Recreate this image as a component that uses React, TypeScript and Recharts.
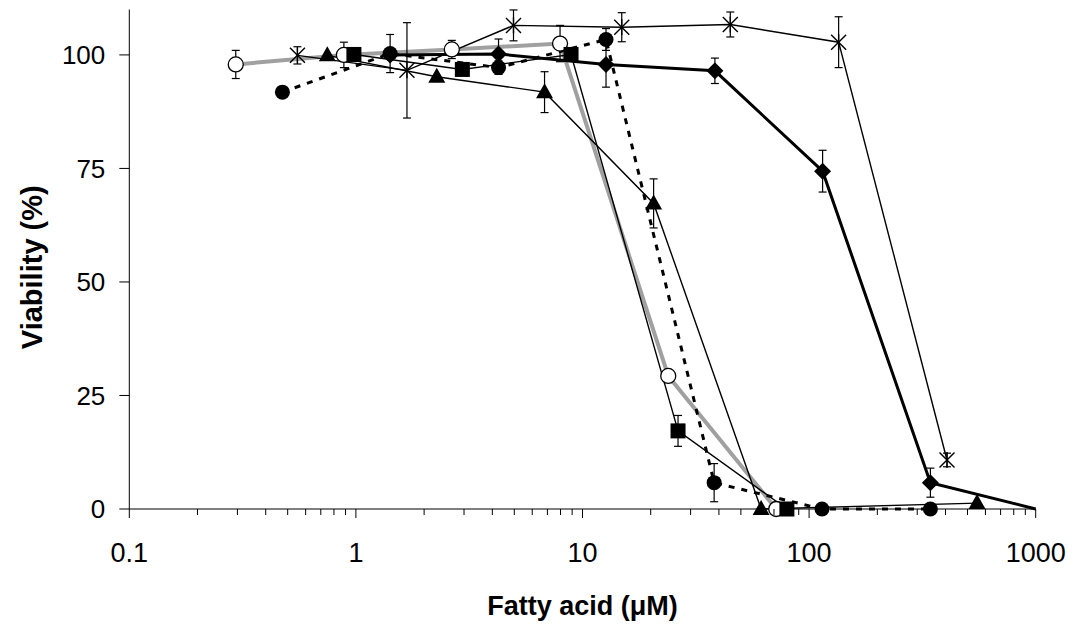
import { LineChart, Line, XAxis, YAxis, ErrorBar } from 'recharts';

// concentrations (µM), viability (%) and error (±) for each fatty acid
const openCircleX = [0.295, 0.885, 2.65, 7.96, 23.9, 71.6];
const openCircleY = [97.9, 100, 101.2, 102.5, 29.3, 0];
const openCircleErr = [3.1, 2.8, 2, 4, 1, 0];

const starX = [0.552, 1.68, 4.96, 14.9, 44.9, 135, 406];
const starY = [99.9, 96.6, 106.5, 106.1, 106.7, 102.8, 10.8];
const starErr = [1.9, 10.5, 3.4, 3.2, 2.75, 5.6, 1.5];

const triangleX = [0.748, 2.275, 6.8, 20.6, 61.4, 551];
const triangleY = [99.9, 95.2, 91.8, 67.3, 0, 1.3];
const triangleErr = [0, 0, 4.5, 5.4, 0, 0];

const squareX = [0.98, 2.95, 8.9, 26.4, 79.8];
const squareY = [100.1, 96.8, 100.1, 17.2, 0];
const squareErr = [0, 0, 0, 3.4, 0];

const circleX = [0.474, 1.416, 4.26, 12.7, 38.1, 114, 343];
const circleY = [91.8, 100.3, 97.2, 103.4, 5.8, 0, 0];
const circleErr = [0, 4.2, 1.5, 2.4, 4.2, 0, 0];

const diamondX = [1.416, 4.26, 12.7, 38.4, 114.7, 343, 1000];
const diamondY = [100, 100.2, 97.9, 96.5, 74.4, 5.8, 0];
const diamondErr = [0, 3.3, 5, 2.8, 4.6, 3.2, 0];

const majorTicks = [0.1, 1, 10, 100, 1000];
const yTicks = [0, 25, 50, 75, 100];

const allTicks: number[] = [];
majorTicks.forEach((t, i) => {
  allTicks.push(t);
  if (i < majorTicks.length - 1) {
    for (let m = 2; m <= 9; m++) allTicks.push(+(t * m).toPrecision(3));
  }
});

const rows = (xs: number[], ys: number[], es: number[]) =>
  xs.map((x, i) => ({ x, y: ys[i], err: es[i] }));

const FONT = '"Liberation Sans", Arial, sans-serif';

const isMajor = (v: number) => majorTicks.some((t) => Math.abs(t - v) < 1e-9);

const XTick = (props: any) => {
  const { x, y, payload } = props;
  const major = isMajor(payload.value);
  return (
    <g>
      <line x1={x} y1={y} x2={x} y2={y + (major ? 9 : 6)} stroke="#000" strokeWidth={1} />
      {major && (
        <text x={x} y={y + 53} textAnchor="middle" fontSize={27} fontFamily={FONT} fill="#000">
          {String(payload.value)}
        </text>
      )}
    </g>
  );
};

const makeDot = (kind: string) => (props: any) => {
  const { cx, cy, payload, index } = props;
  const key = `${kind}-${index}`;
  if (cx == null || cy == null || payload.x >= 1000) return <g key={key} />;
  switch (kind) {
    case 'openCircle':
      return <circle key={key} cx={cx} cy={cy} r={7.5} fill="#fff" stroke="#000" strokeWidth={1.3} />;
    case 'circle':
      return <circle key={key} cx={cx} cy={cy} r={7.5} fill="#000" />;
    case 'square':
      return <rect key={key} x={cx - 7.5} y={cy - 7.5} width={15} height={15} fill="#000" />;
    case 'triangle':
      return (
        <polygon key={key} points={`${cx},${cy - 9} ${cx + 8.5},${cy + 6} ${cx - 8.5},${cy + 6}`} fill="#000" />
      );
    case 'diamond':
      return (
        <polygon
          key={key}
          points={`${cx},${cy - 8.5} ${cx + 8.5},${cy} ${cx},${cy + 8.5} ${cx - 8.5},${cy}`}
          fill="#000"
        />
      );
    default:
      return (
        <g key={key} stroke="#000" strokeWidth={1.4}>
          <line x1={cx} y1={cy - 8} x2={cx} y2={cy + 8} />
          <line x1={cx - 7.5} y1={cy - 7.5} x2={cx + 7.5} y2={cy + 7.5} />
          <line x1={cx - 7.5} y1={cy + 7.5} x2={cx + 7.5} y2={cy - 7.5} />
        </g>
      );
  }
};

const yTitle = (props: any) => {
  const vb = props.viewBox;
  const cx = vb.x + 24;
  const cy = vb.y + vb.height / 2 + 8;
  return (
    <text
      x={cx}
      y={cy}
      transform={`rotate(-90 ${cx} ${cy})`}
      textAnchor="middle"
      dominantBaseline="central"
      fontSize={29}
      fontWeight="bold"
      fontFamily={FONT}
      fill="#000"
    >
      Viability (%)
    </text>
  );
};

const xTitle = (props: any) => {
  const vb = props.viewBox;
  return (
    <text
      x={vb.x + vb.width / 2}
      y={vb.y + 106}
      textAnchor="middle"
      fontSize={27}
      fontWeight="bold"
      fontFamily={FONT}
      fill="#000"
    >
      Fatty acid (μM)
    </text>
  );
};

const series = [
  { name: 'open', data: rows(openCircleX, openCircleY, openCircleErr), dot: 'openCircle', stroke: '#a0a0a0', width: 4, dash: undefined },
  { name: 'star', data: rows(starX, starY, starErr), dot: 'star', stroke: '#000', width: 1.4, dash: undefined },
  { name: 'tri', data: rows(triangleX, triangleY, triangleErr), dot: 'triangle', stroke: '#000', width: 1.4, dash: undefined },
  { name: 'sq', data: rows(squareX, squareY, squareErr), dot: 'square', stroke: '#000', width: 1.4, dash: undefined },
  { name: 'dia', data: rows(diamondX, diamondY, diamondErr), dot: 'diamond', stroke: '#000', width: 3, dash: undefined },
  { name: 'circ', data: rows(circleX, circleY, circleErr), dot: 'circle', stroke: '#000', width: 3, dash: '6 7' },
];

export default function App() {
  return (
    <LineChart width={1062} height={613} margin={{ top: 1.5, right: 34.3, bottom: 0, left: 0 }}>
      <XAxis
        type="number"
        dataKey="x"
        scale="log"
        domain={[0.1, 1000]}
        ticks={allTicks}
        interval={0}
        tickSize={0}
        tickMargin={0}
        tickLine={false}
        tick={<XTick />}
        axisLine={{ stroke: '#000', strokeWidth: 1 }}
        height={112}
        label={xTitle}
      />
      <YAxis
        type="number"
        domain={[0, 110]}
        ticks={yTicks}
        interval={0}
        width={121.3}
        tickSize={10}
        tickMargin={14}
        axisLine={{ stroke: '#000', strokeWidth: 1 }}
        tickLine={{ stroke: '#000', strokeWidth: 1 }}
        tick={{ fill: '#000', fontSize: 26, fontFamily: FONT }}
        label={yTitle}
      />
      {series.map((s) => (
        <Line
          key={s.name}
          data={s.data}
          dataKey="y"
          type="linear"
          stroke={s.stroke}
          strokeWidth={s.width}
          strokeDasharray={s.dash}
          dot={makeDot(s.dot)}
          activeDot={false}
          isAnimationActive={false}
        />
      ))}
      {/* error bars drawn last so they show through the open circles */}
      {series.map((s) => (
        <Line
          key={`${s.name}-err`}
          data={s.data}
          dataKey="y"
          type="linear"
          stroke="none"
          dot={false}
          activeDot={false}
          isAnimationActive={false}
        >
          <ErrorBar dataKey="err" direction="y" width={4} stroke="#000" strokeWidth={1.2} />
        </Line>
      ))}
    </LineChart>
  );
}
